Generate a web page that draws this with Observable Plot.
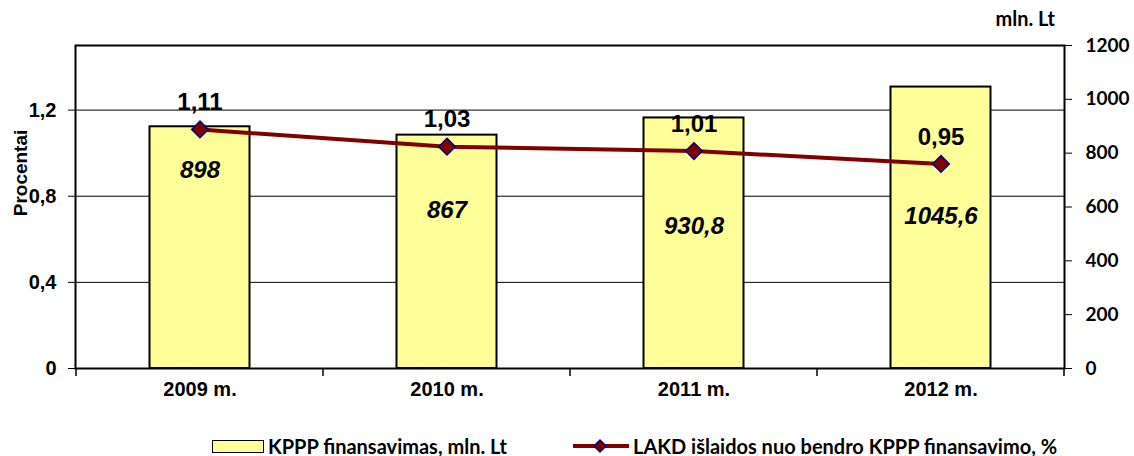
<!DOCTYPE html>
<html><head><meta charset="utf-8">
<script src="https://cdn.jsdelivr.net/npm/d3@7"></script>
<script src="https://cdn.jsdelivr.net/npm/@observablehq/plot@0.6"></script>
<style>
body{margin:0;background:#fff;position:relative;width:1134px;height:456px;}
#chart svg{display:block;}
.lg{position:absolute;top:435px;height:22px;display:flex;align-items:center;font-family:Lato,sans-serif;font-weight:bold;font-size:20px;line-height:22px;color:#000;white-space:nowrap;}
</style>
</head><body>
<div id="chart"></div>
<div class="lg" id="lg1" style="left:212px"></div>
<div class="lg" id="lg2" style="left:573px"></div>
<script>
const years = ["2009 m.", "2010 m.", "2011 m.", "2012 m."];
const funding = [898, 867, 930.8, 1045.6];
const fundingLabels = ["898", "867", "930,8", "1045,6"];
const share = [1.11, 1.03, 1.01, 0.95];
const shareLabels = ["1,11", "1,03", "1,01", "0,95"];
const leftTicks = [0, 0.4, 0.8, 1.2];
const rightTicks = [0, 200, 400, 600, 800, 1000, 1200];
const seriesNames = ["KPPP finansavimas, mln. Lt", "LAKD išlaidos nuo bendro KPPP finansavimo, %"];
const leftTitle = "Procentai";
const rightTitle = "mln. Lt";
const leftMax = 1.5, rightMax = 1200;
const k = rightMax / leftMax;

const rows = years.map((y, i) => ({year: y, funding: funding[i], fl: fundingLabels[i], share: share[i] * k, sl: shareLabels[i]}));
const barLabelDy = [44, 75, 108, 129];

const chart = Plot.plot({
  width: 1134, height: 410,
  marginLeft: 75, marginRight: 70, marginTop: 45, marginBottom: 42,
  style: {fontFamily: "'Liberation Sans', Arial, sans-serif", background: "#fff", color: "#000"},
  x: {type: "band", domain: years, padding: 0},
  y: {domain: [0, rightMax]},
  marks: [
    Plot.ruleY(leftTicks.filter(v => v > 0), {y: v => v * k, stroke: "#000", strokeWidth: 1}),
    Plot.barY(rows, {x: "year", y: "funding", fill: "#FFFF99", stroke: "#000", strokeWidth: 2, insetLeft: 73.5, insetRight: 73.5}),
    Plot.line(rows, {x: "year", y: "share", stroke: "#800000", strokeWidth: 4}),
    Plot.dot(rows, {x: "year", y: "share", symbol: "diamond2", r: 7.5, fill: "#800000", stroke: "#000080", strokeWidth: 1.5}),
    Plot.text(rows, {x: "year", y: "share", text: "sl", dy: -27, fontSize: 24, fontWeight: "bold"}),
    ...rows.map((r, i) => Plot.text([r], {x: "year", y: "funding", text: "fl", dy: barLabelDy[i], fontSize: 24, fontWeight: "bold", fontStyle: "italic"})),
    Plot.frame({stroke: "#000", strokeWidth: 2}),
    Plot.axisX({tickSize: 0, tickPadding: 13, fontSize: 20, fontWeight: "bold", label: null}),
    Plot.axisY({anchor: "left", ticks: leftTicks.map(v => v * k), tickFormat: v => String(+(v / k).toFixed(2)).replace(".", ","), tickSize: 7, tickPadding: 12, fontSize: 20, fontWeight: "bold", label: null}),
    Plot.axisY({anchor: "right", ticks: rightTicks, tickFormat: d => String(d), tickSize: 7, tickPadding: 14, fontSize: 19, fontWeight: "bold", fontFamily: "Lato, sans-serif", label: null})
  ]
});
document.getElementById("chart").appendChild(chart);

const svg = d3.select(chart);
// category boundary ticks on the bottom axis
const sx = chart.scale("x"), sy = chart.scale("y");
const y0 = sy.apply(0);
const bounds = years.map(d => sx.apply(d)).concat([sx.apply(years[years.length - 1]) + sx.bandwidth]);
const g = svg.append("g").attr("stroke", "#000").attr("stroke-width", 1.5);
bounds.forEach(x => g.append("line").attr("x1", x).attr("x2", x).attr("y1", y0).attr("y2", y0 + 8));

// axis titles
svg.append("text").text(leftTitle)
  .attr("transform", "translate(27,173) rotate(-90)")
  .attr("text-anchor", "middle")
  .attr("font-family", "'Liberation Sans', Arial, sans-serif")
  .attr("font-weight", "bold").attr("font-size", 19);
svg.append("text").text(rightTitle)
  .attr("x", 1055).attr("y", 26)
  .attr("text-anchor", "end")
  .attr("font-family", "Lato, sans-serif")
  .attr("font-weight", "bold").attr("font-size", 20);

// legend
document.getElementById("lg1").innerHTML =
  `<span style="display:inline-block;width:50px;height:11px;background:#FFFF99;border:1.5px solid #000;margin-right:4px"></span><span>${seriesNames[0]}</span>`;
document.getElementById("lg2").innerHTML =
  `<svg width="56" height="16" style="margin-right:4px"><line x1="0" x2="56" y1="8" y2="8" stroke="#800000" stroke-width="4"/><path d="M27,2 L33,8 L27,14 L21,8 Z" fill="#800000" stroke="#000080" stroke-width="1.5"/></svg><span>${seriesNames[1]}</span>`;
</script>
</body></html>
